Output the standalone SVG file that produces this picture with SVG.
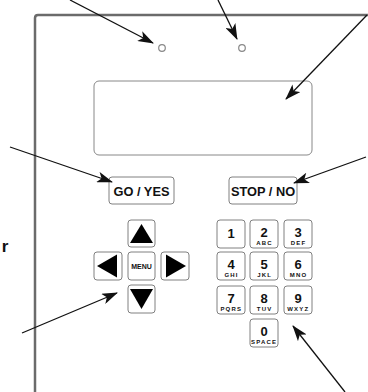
<svg xmlns="http://www.w3.org/2000/svg" width="368" height="392" viewBox="0 0 368 392">
  <style>
    .key { fill: #fff; stroke: #808080; stroke-width: 1; }
    .lbl { font-family: "Liberation Sans", Arial, sans-serif; font-weight: bold; fill: #111; text-anchor: middle; }
    .dig { font-size: 13px; }
    .sub { font-size: 6px; letter-spacing: 1.2px; }
    .btn { font-size: 12.8px; }
    .tri { fill: #000; }
    .arr { stroke: #111; stroke-width: 1.3; fill: none; marker-end: url(#head); }
  </style>
  <defs>
    <marker id="head" viewBox="0 0 16 11" refX="15" refY="5.5" markerWidth="16" markerHeight="11" markerUnits="userSpaceOnUse" orient="auto">
      <path d="M0,0 L16,5.5 L0,11 L4,5.5 Z" fill="#111"/>
    </marker>
  </defs>
  <rect width="368" height="392" fill="#fff"/>

  <!-- enclosure outline -->
  <g id="panel">
    <path d="M35,392 V18 Q35,15 38,15 H368" fill="none" stroke="#6b6b6b" stroke-width="2.5"/>
  </g>

  <text class="lbl" x="5" y="252" font-size="17" text-anchor="middle">r</text>

  <!-- indicator lamps -->
  <g id="led1"><circle cx="162" cy="48" r="3.3" fill="#fff" stroke="#888" stroke-width="1.2"/></g>
  <g id="led2"><circle cx="242" cy="48" r="3.3" fill="#fff" stroke="#888" stroke-width="1.2"/></g>

  <!-- display window -->
  <g id="display"><rect x="94" y="81" width="218" height="74" rx="5" fill="#fff" stroke="#888" stroke-width="1"/></g>

  <!-- function buttons -->
  <g id="go">
    <rect class="key" x="109" y="177" width="65" height="27" rx="3"/>
    <text class="lbl btn" x="141.5" y="195.5">GO / YES</text>
  </g>
  <g id="stop">
    <rect class="key" x="229" y="177" width="68" height="27" rx="3"/>
    <text class="lbl btn" x="263" y="195.5">STOP / NO</text>
  </g>

  <!-- navigation pad -->
  <g id="up">
    <rect class="key" x="128" y="220" width="27" height="27" rx="3"/>
    <polygon class="tri" points="141.5,224 153,243 130,243"/>
  </g>
  <g id="left">
    <rect class="key" x="94" y="252" width="28" height="28" rx="3"/>
    <polygon class="tri" points="97,266 117,254.5 117,277.5"/>
  </g>
  <g id="menu">
    <rect class="key" x="128" y="252" width="27" height="28" rx="3"/>
    <text class="lbl" x="141.5" y="268.5" font-size="7">MENU</text>
  </g>
  <g id="right">
    <rect class="key" x="161" y="252" width="28" height="28" rx="3"/>
    <polygon class="tri" points="186,266 166,254.5 166,277.5"/>
  </g>
  <g id="down">
    <rect class="key" x="128" y="285" width="27" height="28" rx="3"/>
    <polygon class="tri" points="141.5,309 153,289 130,289"/>
  </g>

  <!-- numeric keypad -->
  <g id="k1"><rect class="key" x="217" y="220" width="28" height="28" rx="3"/><text class="lbl dig" x="231" y="238">1</text></g>
  <g id="k2"><rect class="key" x="250" y="220" width="28" height="28" rx="3"/><text class="lbl dig" x="264" y="237">2</text><text class="lbl sub" x="264.6" y="245">ABC</text></g>
  <g id="k3"><rect class="key" x="284" y="220" width="28" height="28" rx="3"/><text class="lbl dig" x="298" y="237">3</text><text class="lbl sub" x="298.6" y="245">DEF</text></g>
  <g id="k4"><rect class="key" x="217" y="252" width="28" height="28" rx="3"/><text class="lbl dig" x="231" y="269">4</text><text class="lbl sub" x="231.6" y="277">GHI</text></g>
  <g id="k5"><rect class="key" x="250" y="252" width="28" height="28" rx="3"/><text class="lbl dig" x="264" y="269">5</text><text class="lbl sub" x="264.6" y="277">JKL</text></g>
  <g id="k6"><rect class="key" x="284" y="252" width="28" height="28" rx="3"/><text class="lbl dig" x="298" y="269">6</text><text class="lbl sub" x="298.6" y="277">MNO</text></g>
  <g id="k7"><rect class="key" x="217" y="286" width="28" height="28" rx="3"/><text class="lbl dig" x="231" y="303">7</text><text class="lbl sub" x="231.3" y="311" letter-spacing="1">PQRS</text></g>
  <g id="k8"><rect class="key" x="250" y="286" width="28" height="28" rx="3"/><text class="lbl dig" x="264" y="303">8</text><text class="lbl sub" x="264.6" y="311">TUV</text></g>
  <g id="k9"><rect class="key" x="284" y="286" width="28" height="28" rx="3"/><text class="lbl dig" x="298" y="303">9</text><text class="lbl sub" x="298.3" y="311" letter-spacing="1">WXYZ</text></g>
  <g id="k0"><rect class="key" x="250" y="319" width="28" height="28" rx="3"/><text class="lbl dig" x="264" y="336">0</text><text class="lbl sub" x="264.2" y="344" letter-spacing="0.3">SPACE</text></g>

  <!-- callout arrows -->
  <g id="connectors">
    <line class="arr" x1="70" y1="0" x2="153" y2="43"/>
    <line class="arr" x1="218" y1="0" x2="237" y2="39"/>
    <line class="arr" x1="367" y1="15" x2="286" y2="99"/>
    <line class="arr" x1="10" y1="147" x2="112" y2="182"/>
    <line class="arr" x1="366" y1="157" x2="294" y2="183"/>
    <line class="arr" x1="22" y1="333" x2="117" y2="293"/>
    <line class="arr" x1="345" y1="392" x2="293" y2="326"/>
  </g>
</svg>
